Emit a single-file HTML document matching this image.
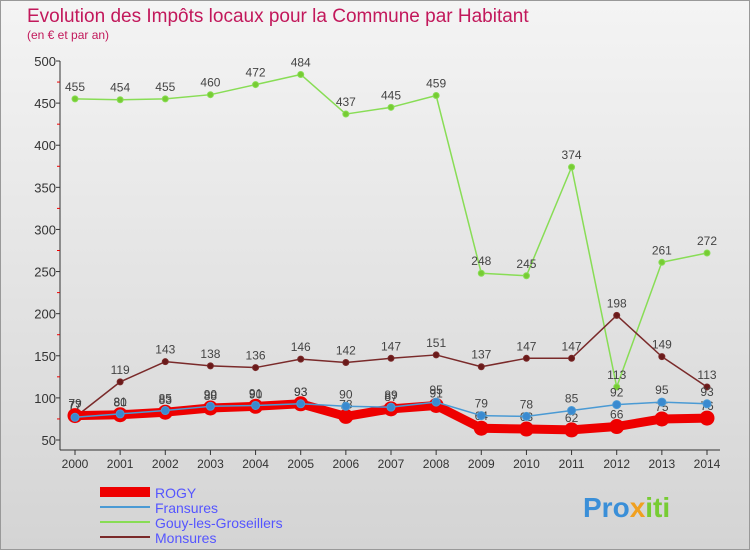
<!DOCTYPE html>
<html><head><meta charset="utf-8"><style>
body{margin:0;width:750px;height:550px;overflow:hidden;font-family:"Liberation Sans",sans-serif}
</style></head><body>
<svg width="750" height="550" id="c">
<defs><linearGradient id="bg" x1="0" y1="0" x2="0" y2="1"><stop offset="0" stop-color="#f4f4f4"/><stop offset="1" stop-color="#d4d4d4"/></linearGradient></defs>
<rect x="0.5" y="0.5" width="749" height="549" fill="url(#bg)" stroke="#999"/>
<text x="27" y="22" font-size="19" fill="#c2185b">Evolution des Impôts locaux pour la Commune par Habitant</text>
<text x="27" y="39" font-size="12" fill="#c2185b">(en € et par an)</text>
<g id="plot"></g>
<g>
<rect x="100" y="487" width="50" height="10" fill="#e00"/>
<text x="155" y="498" font-size="14" fill="#55f">ROGY</text>
<line x1="100" y1="507" x2="150" y2="507" stroke="#4a9ad4" stroke-width="2"/>
<text x="155" y="513" font-size="14" fill="#55f">Fransures</text>
<line x1="100" y1="522" x2="150" y2="522" stroke="#88dd55" stroke-width="2"/>
<text x="155" y="528" font-size="14" fill="#55f">Gouy-les-Groseillers</text>
<line x1="100" y1="537" x2="150" y2="537" stroke="#7a2a2a" stroke-width="2"/>
<text x="155" y="543" font-size="14" fill="#55f">Monsures</text>
</g>
<text x="583" y="517" font-size="28" font-weight="bold" fill="#3a8fd8">Pro<tspan fill="#f0a020">x</tspan><tspan fill="#7c3">iti</tspan></text>
</svg>
<script>
const years=[2000,2001,2002,2003,2004,2005,2006,2007,2008,2009,2010,2011,2012,2013,2014];
const yTicks=[50,100,150,200,250,300,350,400,450,500];
const rogy=[79,80,83,88,90,93,78,87,91,64,63,62,66,75,76];
const fransures=[77,81,85,90,91,93,90,89,95,79,78,85,92,95,93];
const gouy=[455,454,455,460,472,484,437,445,459,248,245,374,113,261,272];
const monsures=[77,119,143,138,136,146,142,147,151,137,147,147,198,149,113];
const NS="http://www.w3.org/2000/svg",g=document.getElementById('plot');
const X=i=>75+i*(707-75)/(years.length-1);
const Y=v=>440-(v-50)*(440-61)/450;
function mk(t,a){const e=document.createElementNS(NS,t);for(const k in a)e.setAttribute(k,a[k]);g.appendChild(e);return e;}
let ax=mk('line',{x1:60,y1:61,x2:60,y2:450,stroke:'#333'});


let bx=mk('line',{x1:60,y1:450,x2:720,y2:450,stroke:'#333'});


yTicks.forEach(v=>{
 let t=mk('text',{x:56,y:Y(v)+5,'font-size':13,'text-anchor':'end',fill:'#333'});t.textContent=v;
 
 
 mk('line',{x1:56,y1:Y(v),x2:60,y2:Y(v),stroke:'#333'});
 if(v<500)mk('line',{x1:57,y1:Y(v+25),x2:60,y2:Y(v+25),stroke:'#e00'});
});
years.forEach((yr,i)=>{
 mk('line',{x1:X(i),y1:450,x2:X(i),y2:455,stroke:'#333'});
 let t=mk('text',{x:X(i),y:468,'font-size':12,'text-anchor':'middle',fill:'#333'});t.textContent=yr;
 
 
});
function series(d,name,col,w,r,pc){
 let l=mk('polyline',{points:d.map((v,i)=>X(i)+','+Y(v)).join(' '),fill:'none',stroke:col,'stroke-width':w,'stroke-linejoin':'round'});
 
 
 d.forEach((v,i)=>{
  let c=mk('circle',{cx:X(i),cy:Y(v),r:r,fill:pc,stroke:col,'stroke-width':1});
  
  
  let t=mk('text',{x:X(i),y:Y(v)-8,'font-size':12,'text-anchor':'middle',fill:'#444'});t.textContent=v;
  
  
 });
}
series(gouy,'gouy','#88dd55',1.5,3,'#77cc33');
series(monsures,'monsures','#7a2a2a',1.5,3,'#6a1a1a');
series(rogy,'rogy','#e00',9,7,'#e00');
series(fransures,'fransures','#4a9ad4',1.5,4,'#3a8ad0');
</script>
</body></html>
